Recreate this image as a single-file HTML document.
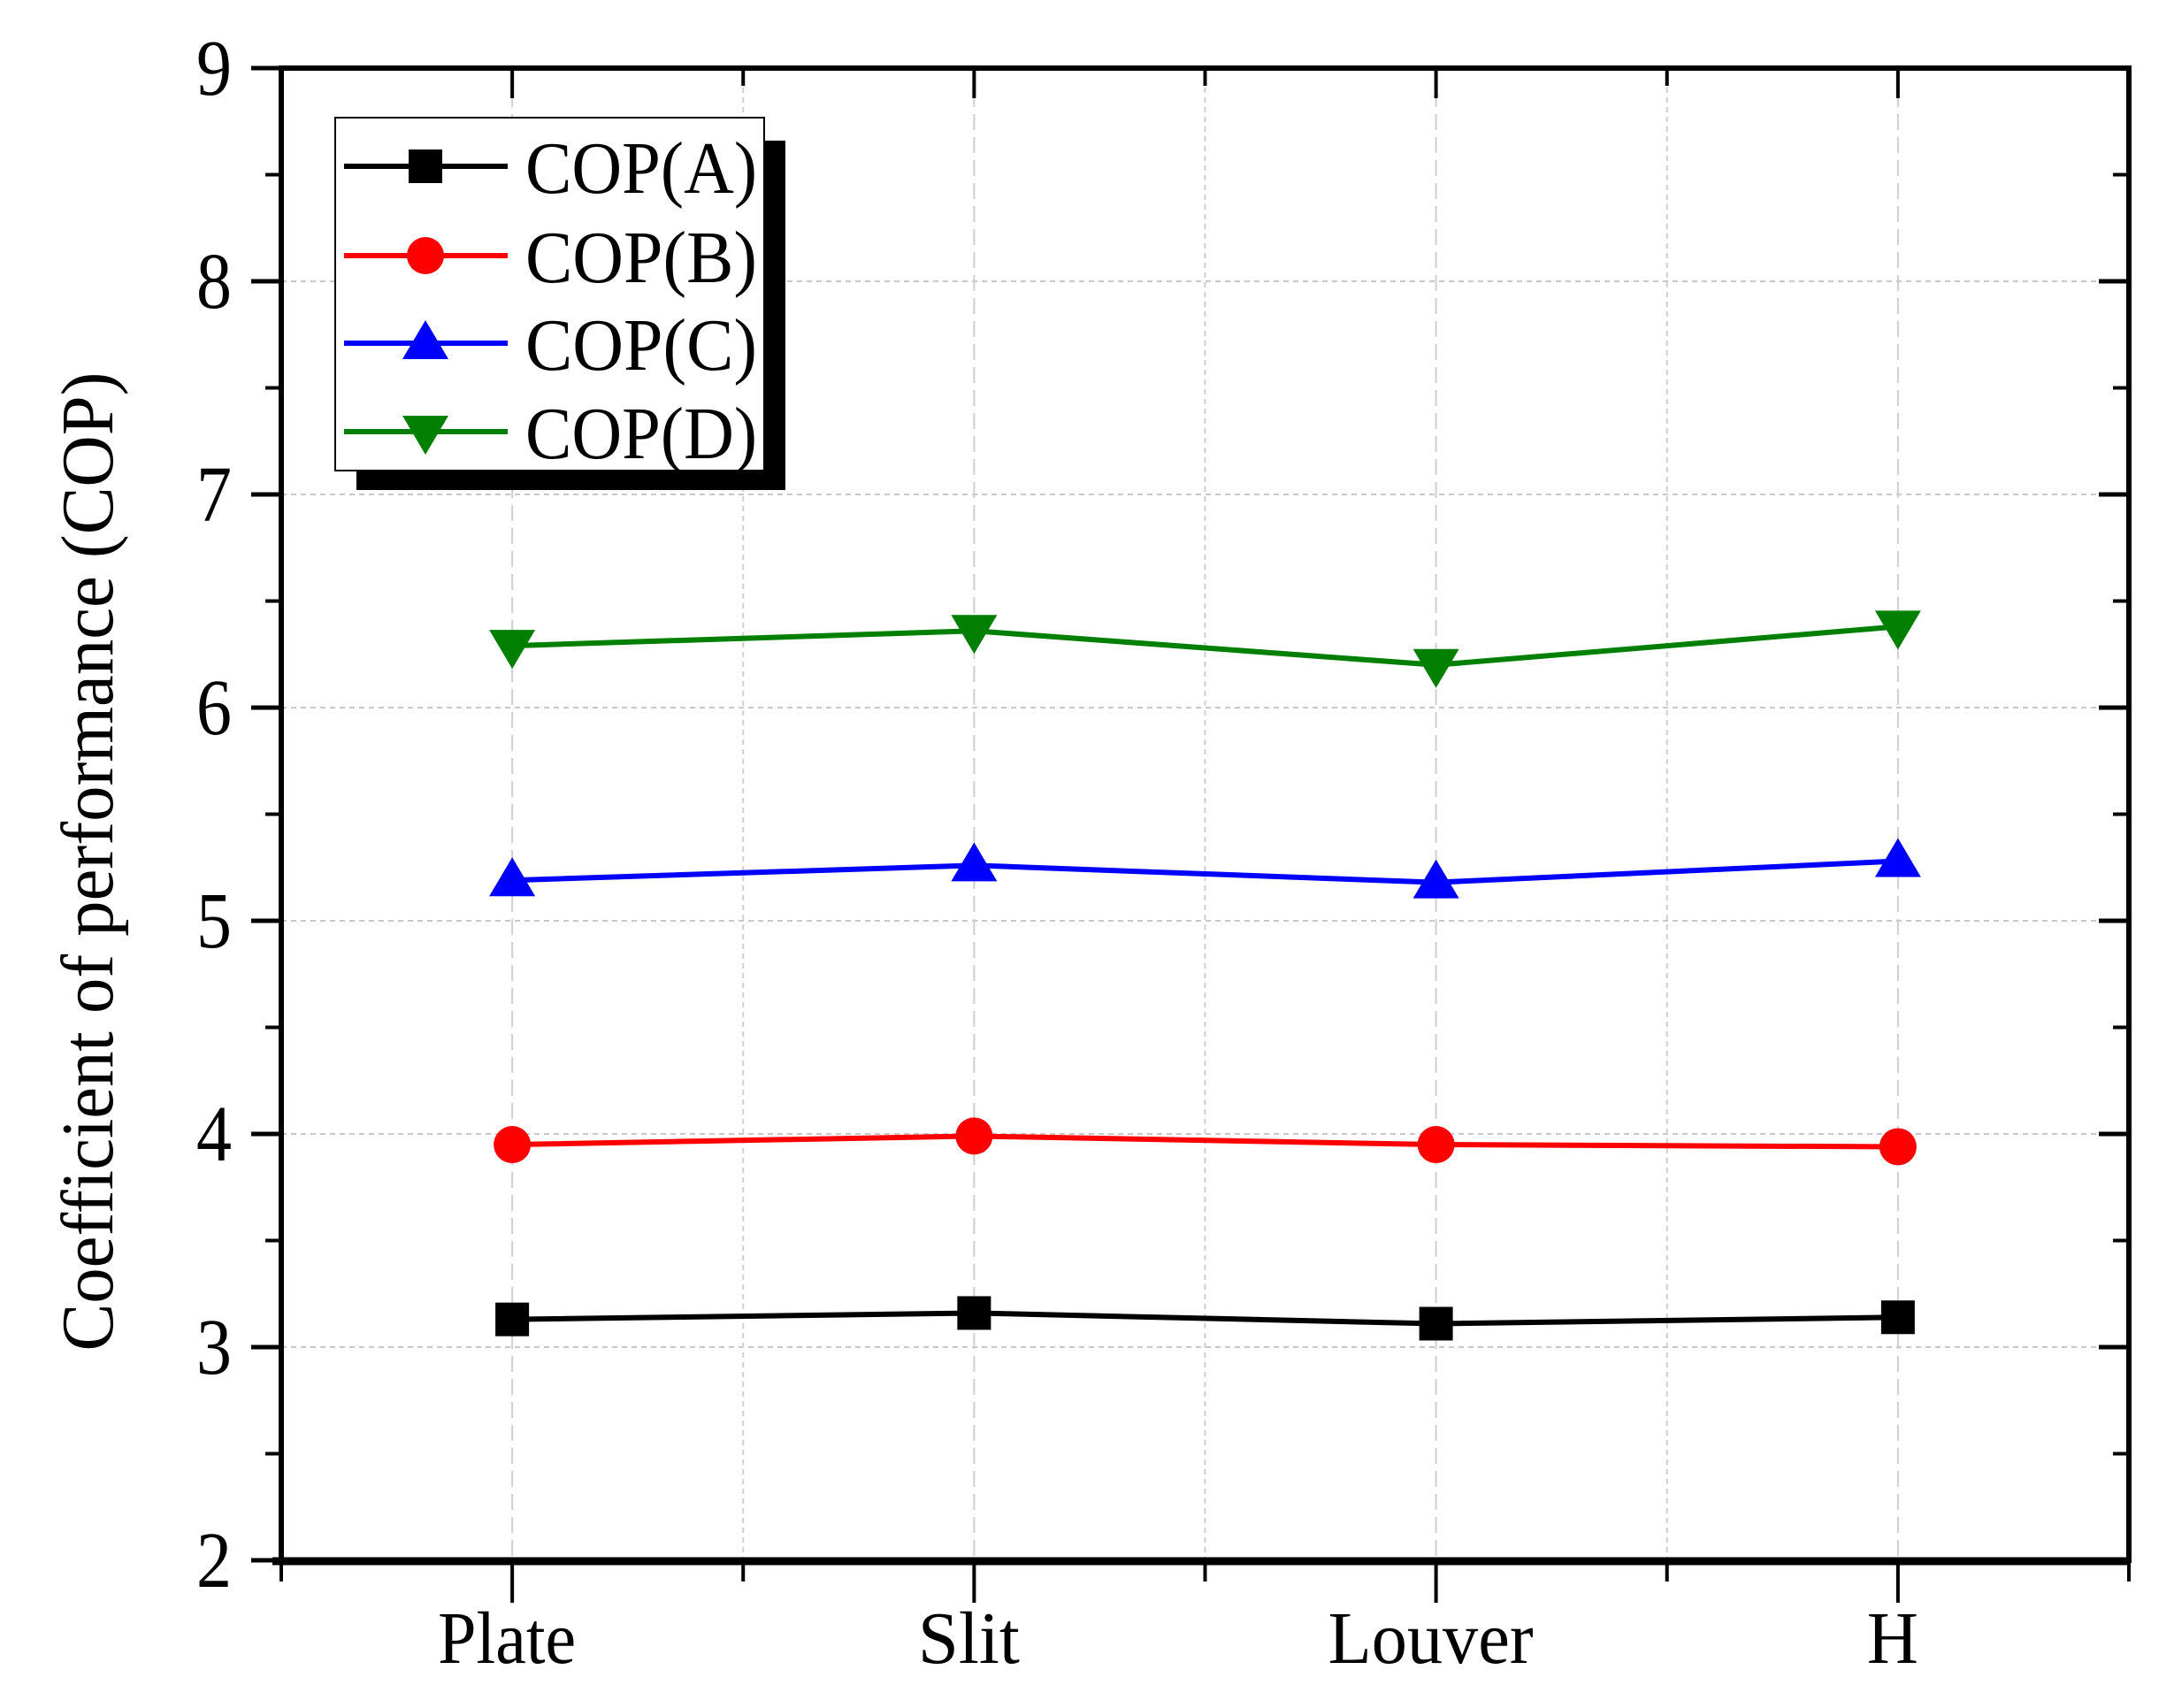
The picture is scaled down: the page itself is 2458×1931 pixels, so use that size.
<!DOCTYPE html>
<html><head><meta charset="utf-8"><style>
html,body{margin:0;padding:0;background:#fff;}
svg{display:block;font-family:"Liberation Serif",serif;}
</style></head><body>
<svg id="chart" width="2458" height="1931" viewBox="0 0 2458 1931" xmlns="http://www.w3.org/2000/svg">
<rect width="2458" height="1931" fill="#fff"/>
<g id="grid"></g>
<g id="axes"></g>
<g id="series"></g>
<text transform="translate(127,974) rotate(-90)" text-anchor="middle" font-size="84" textLength="1107" lengthAdjust="spacingAndGlyphs">Coefficient of performance (COP)</text>
<g id="legend"></g>
</svg>
<script>
const categories = ["Plate","Slit","Louver","H"];
const seriesNames = ["COP(A)","COP(B)","COP(C)","COP(D)"];
const copA = [3.13,3.16,3.11,3.14];
const copB = [3.95,3.99,3.95,3.94];
const copC = [5.19,5.26,5.18,5.28];
const copD = [6.29,6.36,6.20,6.38];
const yTicks = [2,3,4,5,6,7,8,9];

const NS="http://www.w3.org/2000/svg";
const L=318,R=2407,T=77,B=1764,yMin=2,yMax=9;
const xS=i=>L+(i+0.5)*(R-L)/categories.length;
const yS=v=>B-(v-yMin)*(B-T)/(yMax-yMin);
function mk(tag,attrs,parent){const e=document.createElementNS(NS,tag);for(const k in attrs)e.setAttribute(k,attrs[k]);parent.appendChild(e);return e;}
const grid=document.getElementById('grid'),axes=document.getElementById('axes'),ser=document.getElementById('series'),leg=document.getElementById('legend');

for(const v of yTicks){ if(v===yMin||v===yMax)continue;
  const g=mk('line',{x1:L,x2:R,y1:yS(v),y2:yS(v),stroke:'#c8c8c8','stroke-width':2,'stroke-dasharray':'6 5'},grid);
  
  
}
for(let k=0;k<=categories.length*2;k++){ const x=L+k*(R-L)/(categories.length*2); if(k===0||k===categories.length*2)continue;
  const g=mk('line',{x1:x,x2:x,y1:T,y2:B,stroke:'#cfcfcf','stroke-width':2,'stroke-dasharray':k%2? '18 8':'6 5'},grid);
  
  
}
for(const v of yTicks){ const y=yS(v);
  const t=mk('line',{x1:L-34,x2:L,y1:y,y2:y,stroke:'#000','stroke-width':5},axes);
  
  
  mk('line',{x1:R-34,x2:R,y1:y,y2:y,stroke:'#000','stroke-width':5},axes);
  if(v<yMax){const ym=yS(v+0.5);
    mk('line',{x1:L-18,x2:L,y1:ym,y2:ym,stroke:'#000','stroke-width':4},axes);
    mk('line',{x1:R-18,x2:R,y1:ym,y2:ym,stroke:'#000','stroke-width':4},axes);}
  const lb=mk('text',{x:262,y:y+30,'text-anchor':'end','font-size':90,textLength:40,lengthAdjust:'spacingAndGlyphs'},axes);
  lb.textContent=v;
  
  
}
const xw=[156,115,232,58];
categories.forEach((c,i)=>{const x=xS(i);
  const t=mk('line',{x1:x,x2:x,y1:B,y2:B+48,stroke:'#000','stroke-width':4},axes);
  
  
  mk('line',{x1:x,x2:x,y1:T,y2:T+34,stroke:'#000','stroke-width':4},axes);
  const lb=mk('text',{x:x-6,y:1880,'text-anchor':'middle','font-size':84,textLength:xw[i],lengthAdjust:'spacingAndGlyphs'},axes);
  lb.textContent=c;
  
  
});
for(let k=0;k<=categories.length;k++){const x=L+k*(R-L)/categories.length;
  mk('line',{x1:x,x2:x,y1:B,y2:B+24,stroke:'#000','stroke-width':4},axes);
  mk('line',{x1:x,x2:x,y1:T,y2:T+20,stroke:'#000','stroke-width':4},axes);}
const fr=mk('rect',{x:L,y:T,width:R-L,height:B-T,fill:'none',stroke:'#000','stroke-width':6},axes);


mk('line',{x1:L-10,x2:R,y1:B+1,y2:B+1,stroke:'#000','stroke-width':9},axes);

function marker(type,x,y,color,parent){
  let e;
  if(type==='sq') e=mk('rect',{x:x-19,y:y-19,width:38,height:38,fill:color},parent);
  else if(type==='ci') e=mk('ellipse',{cx:x,cy:y,rx:21,ry:21,fill:color},parent);
  else if(type==='up') e=mk('polygon',{points:`${x-26},${y+18} ${x+26},${y+18} ${x},${y-26}`,fill:color},parent);
  else e=mk('polygon',{points:`${x-26},${y-18} ${x+26},${y-18} ${x},${y+26}`,fill:color},parent);
  return e;
}
const sData=[copA,copB,copC,copD],colors=['#000','#ff0000','#0000ff','#007f00'],mTypes=['sq','ci','up','dn'],keys=['a','b','c','d'];
sData.forEach((arr,s)=>{
  const g=mk('g',{},ser);
  
  
  const pts=arr.map((v,i)=>xS(i)+','+yS(v)).join(' ');
  const ln=mk('polyline',{points:pts,fill:'none',stroke:colors[s],'stroke-width':6},g);
  
  
  arr.forEach((v,i)=>{const m=marker(mTypes[s],xS(i),yS(v),colors[s],g);
    
    });
});
mk('rect',{x:403,y:159,width:485,height:395,fill:'#000'},leg);
const lb=mk('rect',{x:379,y:133,width:485,height:399,fill:'#fff',stroke:'#000','stroke-width':2},leg);


const rows=[188,289,388,488];
seriesNames.forEach((n,s)=>{const y=rows[s];
  const g=mk('g',{},leg);
  
  
  mk('line',{x1:389,x2:574,y1:y,y2:y,stroke:colors[s],'stroke-width':6},g);
  marker(mTypes[s],481,y,colors[s],g);
  const t=mk('text',{x:594,y:y+30,'font-size':84,textLength:262,lengthAdjust:'spacingAndGlyphs'},g);
  t.textContent=n;
});
</script>
</body></html>
